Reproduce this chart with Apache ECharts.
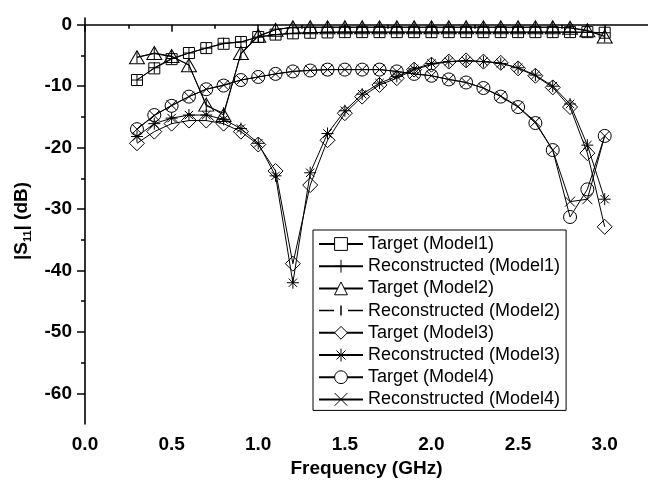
<!DOCTYPE html>
<html><head><meta charset="utf-8">
<script src="https://cdn.jsdelivr.net/npm/echarts@6/dist/echarts.min.js"></script>
<style>html,body{margin:0;padding:0;background:#fff}#c{width:648px;height:484px}</style>
</head><body><div id="c"></div>
<script>
const freq = [0.3,0.4,0.5,0.6,0.7,0.8,0.9,1.0,1.1,1.2,1.3,1.4,1.5,1.6,1.7,1.8,1.9,2.0,2.1,2.2,2.3,2.4,2.5,2.6,2.7,2.8,2.9,3.0];
const targetModel1 = [-9.0,-7.1,-5.6,-4.6,-3.8,-3.1,-2.8,-2.0,-1.6,-1.4,-1.3,-1.25,-1.2,-1.2,-1.2,-1.2,-1.2,-1.2,-1.2,-1.2,-1.2,-1.2,-1.2,-1.2,-1.2,-1.2,-1.2,-1.3];
const reconModel1  = [-9.0,-7.0,-5.5,-4.6,-3.8,-3.0,-2.8,-2.0,-1.6,-1.4,-1.3,-1.2,-1.2,-1.2,-1.2,-1.2,-1.2,-1.2,-1.2,-1.2,-1.2,-1.2,-1.2,-1.2,-1.2,-1.2,-1.25,-1.3];
const targetModel2 = [-5.3,-4.6,-5.1,-6.6,-13.0,-14.7,-4.6,-1.8,-0.8,-0.4,-0.4,-0.4,-0.4,-0.4,-0.4,-0.4,-0.4,-0.4,-0.4,-0.4,-0.4,-0.4,-0.4,-0.4,-0.4,-0.5,-0.9,-1.9];
const reconModel2  = [-5.3,-4.7,-5.2,-6.5,-13.2,-14.4,-4.8,-1.9,-0.8,-0.4,-0.4,-0.4,-0.4,-0.4,-0.4,-0.4,-0.4,-0.4,-0.4,-0.4,-0.4,-0.4,-0.4,-0.4,-0.4,-0.5,-1.0,-1.9];
const targetModel3 = [-19.3,-17.4,-16.1,-15.6,-15.6,-16.1,-17.4,-19.5,-23.8,-38.9,-26.1,-18.8,-14.4,-11.7,-9.8,-8.7,-7.3,-6.5,-6.0,-5.8,-6.0,-6.2,-7.1,-8.3,-10.2,-13.4,-20.9,-32.9];
const reconModel3  = [-18.2,-16.1,-15.2,-14.7,-14.7,-15.4,-16.9,-19.3,-24.6,-42.0,-24.1,-17.7,-14.0,-11.3,-9.5,-8.4,-7.2,-6.3,-6.0,-5.9,-6.0,-6.3,-7.0,-8.2,-10.0,-12.9,-19.6,-28.4];
const targetModel4 = [-17.0,-14.7,-13.2,-11.7,-10.5,-9.9,-9.0,-8.5,-8.0,-7.6,-7.45,-7.3,-7.3,-7.3,-7.3,-7.6,-8.0,-8.3,-8.9,-9.4,-10.3,-11.7,-13.4,-16.0,-20.4,-31.3,-26.8,-18.1];
const reconModel4  = [-17.0,-14.8,-13.1,-11.7,-10.5,-9.8,-9.0,-8.5,-8.0,-7.6,-7.4,-7.3,-7.3,-7.3,-7.3,-7.6,-8.0,-8.3,-8.9,-9.4,-10.3,-11.6,-13.3,-15.8,-20.4,-28.8,-28.4,-18.1];
const seriesNames = ['Target (Model1)','Reconstructed (Model1)','Target (Model2)','Reconstructed (Model2)','Target (Model3)','Reconstructed (Model3)','Target (Model4)','Reconstructed (Model4)'];
const xMajorTicks = [0,0.5,1.0,1.5,2.0,2.5,3.0];
const xMinorTicks = [0.25,0.75,1.25,1.75,2.25,2.75];
const yMajorTicks = [-60,-50,-40,-30,-20,-10,0];
const yMinorTicks = [-55,-45,-35,-25,-15,-5];

const allData = [targetModel1,reconModel1,targetModel2,reconModel2,targetModel3,reconModel3,targetModel4,reconModel4];
const symbols = ['rect','path://M0,5L10,5M5,0L5,10','triangle','path://M5,0L5,10M0,5L0,5M10,5L10,5','diamond',
  'path://M5,0L5,10M0,5L10,5M1.5,1.5L8.5,8.5M8.5,1.5L1.5,8.5','circle','path://M0,0L10,10M10,0L0,10'];
const sizes = [11,11,[15,13],12,15,12,13,10];
const FONT = 'Liberation Sans';
// legend icon for the vertical-bar series: broken line around the bar
const barLegendIcon = 'path://M0,0L0,0M44,16L44,16M0,8L15,8M22,3L22,13M29,8L44,8';

const series = seriesNames.map((n,i)=>({
  name:n, type:'line', data: freq.map((f,k)=>[f, allData[i][k]]),
  symbol: symbols[i], symbolSize: sizes[i], showAllSymbol:true,
  lineStyle:{color:'#000', width:1},
  itemStyle:{color:'rgba(0,0,0,0)', borderColor:'#000', borderWidth:1},
  emphasis:{disabled:true}, animation:false, z: 2+i
}));

const axisCommon = {type:'value', splitLine:{show:false}};
const chart = echarts.init(document.getElementById('c'), null, {renderer:'canvas'});
chart.setOption({
  animation:false,
  backgroundColor:'#fff',
  grid:{left:85, top:18, width:565.5, height:406, containLabel:false},
  xAxis:[
    Object.assign({}, axisCommon, {min:0, max:3.25, position:'bottom',
      name:'Frequency (GHz)', nameLocation:'middle', nameGap:33,
      nameTextStyle:{fontFamily:FONT, fontSize:19, fontWeight:'bold', color:'#000', verticalAlign:'top'},
      axisLine:{show:true, lineStyle:{color:'#000', width:1.6}},
      axisTick:{show:true, inside:false, length:7, customValues:xMajorTicks, lineStyle:{color:'#000', width:1.5}},
      axisLabel:{show:true, customValues:xMajorTicks, margin:11, fontFamily:FONT, fontSize:19, fontWeight:'bold', color:'#000',
        formatter:v=>v.toFixed(1)}}),
    Object.assign({}, axisCommon, {min:0, max:3.25, position:'bottom',
      axisLine:{show:false}, axisLabel:{show:false},
      axisTick:{show:true, inside:false, length:4, customValues:xMinorTicks, lineStyle:{color:'#000', width:1.5}}})
  ],
  yAxis:[
    Object.assign({}, axisCommon, {min:-65, max:1.1, position:'left',
      name:'|S{s|11}| (dB)', nameLocation:'middle', nameGap:50,
      nameTextStyle:{fontFamily:FONT, fontSize:19, fontWeight:'bold', color:'#000', lineHeight:24,
        rich:{s:{fontFamily:FONT, fontSize:11, fontWeight:'bold', color:'#000', verticalAlign:'bottom', lineHeight:12}}},
      axisLine:{show:true, lineStyle:{color:'#000', width:1.6}},
      axisTick:{show:true, inside:false, length:8, customValues:yMajorTicks, lineStyle:{color:'#000', width:1.5}},
      axisLabel:{show:true, customValues:yMajorTicks, margin:13, fontFamily:FONT, fontSize:19, fontWeight:'bold', color:'#000'}}),
    Object.assign({}, axisCommon, {min:-65, max:1.1, position:'left',
      axisLine:{show:false}, axisLabel:{show:false},
      axisTick:{show:true, inside:false, length:4, customValues:yMinorTicks, lineStyle:{color:'#000', width:1.5}}})
  ],
  legend:{
    orient:'vertical', left:313, top:230, selectedMode:false,
    itemWidth:44, itemHeight:16, itemGap:4.2,
    padding:[5,6,2,5], borderColor:'#000', borderWidth:1, backgroundColor:'#fff',
    textStyle:{fontFamily:FONT, fontSize:18, color:'#000', lineHeight:18},
    data: seriesNames.map((n,i)=>{
      const d = {name:n, itemStyle:{color:'#fff', borderColor:'#000', borderWidth:1}};
      if (i === 3) { d.icon = barLegendIcon; d.itemStyle = {color:'#fff', borderColor:'#000', borderWidth:1.5}; }
      return d;
    })
  },
  series: series
});
</script>
</body></html>
